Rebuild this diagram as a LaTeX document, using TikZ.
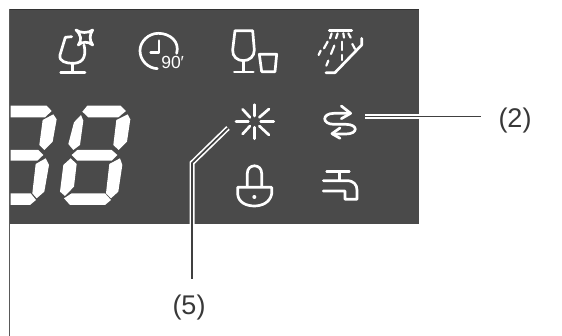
\documentclass[tikz,border=0pt]{standalone}
\usepackage{fontspec}
\setmainfont{Liberation Sans}
\tikzset{
  icon/.style={draw=white,line width=2.7pt,line cap=round,line join=round},
  thin icon/.style={icon,line width=2.2pt},
  seg/.style={fill=white,draw=none},
  lbl/.style={text=black!78,font=\fontsize{27}{27}\selectfont,inner sep=0pt},
}
\begin{document}
\begin{tikzpicture}[x=1pt,y=-1pt]
\useasboundingbox (0,0) rectangle (562,336);
\fill[white] (0,0) rectangle (562,336);
% panel
\fill[black!71] (10,9) rectangle (419,224);
\draw[black!80,line width=1.4pt] (10,9.6) -- (419,9.6);
\draw[black!65,line width=1.5pt] (9.5,9) -- (9.5,336);
% digits
\begin{scope}[shift={(0,90)},x=0.3333pt,y=-0.3333pt]
  \fill[seg] (247,65)--(262,47)--(362,47)--(378,63)--(355,82)--(265,82)--cycle;
  \fill[seg] (243,75)--(250,92)--(240,165)--(220,180)--(205,162)--(222,97)--cycle;
  \fill[seg] (215,195)--(232,180)--(335,180)--(352,195)--(335,212)--(232,212)--cycle;
  \fill[seg] (212,205)--(230,222)--(222,290)--(195,318)--(180,305)--(190,225)--cycle;
  \fill[seg] (192,325)--(215,310)--(315,310)--(333,330)--(315,345)--(210,345)--cycle;
  \fill[seg] (383,73)--(391,88)--(381,155)--(356,180)--(340,165)--(349,90)--cycle;
  \fill[seg] (360,205)--(367,225)--(355,305)--(333,325)--(318,310)--(328,222)--cycle;
  \fill[seg] (32,47)--(140,47)--(155,63)--(135,82)--(32,82)--cycle;
  \fill[seg] (32,180)--(115,180)--(130,195)--(112,212)--(32,212)--cycle;
  \fill[seg] (32,310)--(92,310)--(108,330)--(90,345)--(32,345)--cycle;
  \fill[seg] (160,73)--(170,88)--(158,155)--(133,180)--(118,165)--(128,90)--cycle;
  \fill[seg] (137,205)--(147,225)--(133,305)--(110,325)--(97,310)--(107,222)--cycle;
\end{scope}
% icons from first crop
\begin{scope}[x=0.3333pt,y=-0.3333pt]
  \draw[icon] (215,110) -- (196,112) -- (180,165) .. controls (176,185) and (200,190) .. (218,190)
     .. controls (240,190) and (262,180) .. (252,135);
  \draw[icon] (218,190) -- (218,216);
  \draw[icon] (182,217) -- (255,217);
  \draw[icon] (228,90) .. controls (240,100) and (266,100) .. (278,90)
     .. controls (268,105) and (268,120) .. (278,135)
     .. controls (266,124) and (246,124) .. (235,135)
     .. controls (246,120) and (244,105) .. (228,90) -- cycle;
  \draw[icon] (530,160) .. controls (540,125) and (510,100) .. (475,100)
     .. controls (445,100) and (420,125) .. (420,152)
     .. controls (420,182) and (445,205) .. (472,206);
  \draw[icon] (477,122) -- (477,157) -- (452,157);
  \node[text=white,font=\fontsize{17.5}{17.5}\selectfont,inner sep=0pt] (t90) at (518,187) {90′};
\end{scope}
\begin{scope}[shift={(200,0)},x=0.3333pt,y=-0.3333pt]
  \draw[icon] (105,92) -- (158,92) -- (163,150) .. controls (163,170) and (148,182) .. (130,182)
     .. controls (112,182) and (97,170) .. (98,150) -- cycle;
  \draw[icon] (130,182) -- (130,215);
  \draw[icon] (103,216) -- (160,216);
  \draw[icon] (178,163) -- (230,163) -- (225,215) -- (185,215) -- cycle;
  \draw[icon] (388,91) -- (455,91);
  \draw[icon] (378,218) -- (405,218) -- (485,135) -- (485,115);
  \foreach \ax/\ay/\bx/\by in {395/100/390/115,413/100/408/115,430/100/432/113,445/100/452/113,
     383/125/372/145,403/137/393/162,427/125/427/150,457/132/465/147,
     362/152/356/165,385/182/379/197,427/165/427/180}
    \draw[thin icon] (\ax,\ay) -- (\bx,\by);
\end{scope}
\begin{scope}[shift={(170,90)},x=0.3333pt,y=-0.3333pt]
  \foreach \ax/\ay/\bx/\by in {253/44/253/78,253/112/253/146,198/95/235/95,272/95/311/95,
     218/58/240/82,297/57/268/82,218/132/240/108,297/135/268/108}
    \draw[icon] (\ax,\ay) -- (\bx,\by);
  % loop arrows
  \draw[icon] (540,70) -- (492,70) .. controls (455,70) and (455,103) .. (492,103)
     -- (528,103) .. controls (565,103) and (565,132) .. (528,132) -- (488,132);
  \draw[icon] (514,48) -- (542,70) -- (514,86);
  \draw[icon] (510,114) -- (486,131) -- (510,145);
  % bell / lock
  \draw[icon] (232,290) -- (232,250) .. controls (232,220) and (275,220) .. (275,250) -- (275,290);
  \draw[icon] (203,292) -- (305,292) -- (305,312) .. controls (300,338) and (275,348) .. (253,348)
     .. controls (230,348) and (205,338) .. (203,312) -- cycle;
  \fill[white] (253,321) circle (6);
  % tap
  \draw[icon] (470,245) -- (538,245);
  \draw[icon] (508,245) -- (508,272);
  \draw[icon] (460,272) -- (530,272) .. controls (552,272) and (561,285) .. (561,300) -- (561,328)
     -- (525,328) -- (525,303) -- (460,303);
\end{scope}
% labels and leaders
\node[lbl] (n2) at (515,120.5) {(2)};
\node[lbl] (n5) at (189,308) {(5)};
\coordinate (a2) at (365,116.6);
\coordinate (b2) at (481,116.6);
\coordinate (a5) at (228,128);
\coordinate (k5) at (192,163);
\coordinate (b5) at (192,279);
\draw[white,line width=5pt] (a2) -- (b2);
\draw[white,line width=5pt,line join=miter] (a5) -- (k5) -- (b5);
\draw[black!75,line width=1.7pt] (a2) -- (b2);
\draw[black!75,line width=1.7pt,line join=miter] (a5) -- (k5) -- (b5);
\end{tikzpicture}
\end{document}
